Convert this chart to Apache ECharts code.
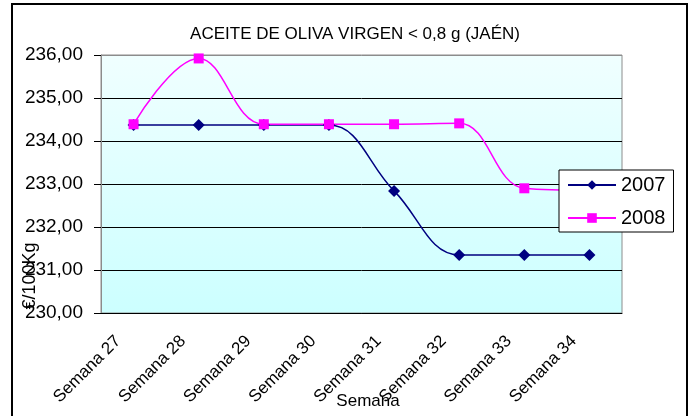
<!DOCTYPE html>
<html lang="es">
<head>
    <meta charset="UTF-8">
    <title>Aceite de oliva virgen - Jaén</title>
    <script src="https://cdn.jsdelivr.net/npm/echarts@6/dist/echarts.min.js"></script>
    <style>
        html, body { margin: 0; padding: 0; background: #fff; }
        #chart { width: 695px; height: 416px; }
    </style>
</head>
<body>
<div id="chart"></div>
<script>
    // datos
    var semanas = ['Semana 27', 'Semana 28', 'Semana 29', 'Semana 30', 'Semana 31', 'Semana 32', 'Semana 33', 'Semana 34'];
    var precios2007 = [234.37, 234.37, 234.37, 234.37, 232.84, 231.35, 231.35, 231.35];
    var precios2008 = [234.39, 235.92, 234.39, 234.39, 234.39, 234.41, 232.90, 232.85];
    var yTicks = [230, 231, 232, 233, 234, 235, 236];

    var font = '"Liberation Sans", Arial, sans-serif';

    var chart = echarts.init(document.getElementById('chart'));

    chart.setOption({
        animation: false,
        textStyle: { fontFamily: font },
        title: {
            text: 'ACEITE DE OLIVA VIRGEN < 0,8 g (JAÉN)',
            left: 350,
            textAlign: 'center',
            top: 21,
            textStyle: { fontSize: 17, fontWeight: 'normal', color: '#000', fontFamily: font }
        },
        graphic: [{
            type: 'rect',
            shape: { x: 12, y: 4, width: 675, height: 440 },
            style: { fill: 'none', stroke: '#000', lineWidth: 2 },
            z: -1
        }, {
            // titulo del eje Y (queda encima de las etiquetas, como en el original)
            type: 'text',
            x: 30,
            y: 276,
            rotation: Math.PI / 2,
            style: {
                text: '€/100Kg',
                fontSize: 18,
                fontFamily: font,
                fill: '#000',
                align: 'center',
                verticalAlign: 'middle'
            },
            z: 10
        }, {
            // titulo del eje X, se monta sobre la etiqueta de la semana 32
            type: 'text',
            x: 368,
            y: 401,
            style: {
                text: 'Semana',
                fontSize: 17,
                fontFamily: font,
                fill: '#000',
                align: 'center',
                verticalAlign: 'middle'
            },
            z: 10
        }],
        legend: {
            orient: 'vertical',
            left: 559,
            top: 170,
            padding: [5, 8, 4, 8],
            itemGap: 13,
            itemWidth: 48,
            itemHeight: 12,
            backgroundColor: '#fff',
            borderColor: '#000',
            borderWidth: 1,
            borderRadius: 0,
            textStyle: { fontSize: 20, color: '#000', fontFamily: font },
            data: ['2007', '2008']
        },
        grid: {
            left: 101, right: 73, top: 55, bottom: 103,
            outerBoundsMode: 'none',
            containLabel: false,
            show: true,
            borderColor: '#8c8c8c',
            borderWidth: 1,
            backgroundColor: new echarts.graphic.LinearGradient(0, 0, 0, 1, [
                { offset: 0, color: '#f0ffff' },
                { offset: 1, color: '#ccffff' }
            ])
        },
        xAxis: {
            type: 'category',
            data: semanas,
            boundaryGap: true,
            axisLine: { lineStyle: { color: '#000' } },
            axisTick: { alignWithLabel: false, length: 6, lineStyle: { color: '#000' } },
            axisLabel: {
                rotate: 45, fontSize: 17, color: '#000', margin: 10, interval: 0,
                padding: [0, 22, 0, 0]
            }
        },
        yAxis: {
            type: 'value',
            min: yTicks[0],
            max: yTicks[yTicks.length - 1],
            interval: 1,
            axisLine: { show: true, lineStyle: { color: '#8c8c8c' } },
            axisTick: { show: true, length: 7, lineStyle: { color: '#000' } },
            axisLabel: {
                fontSize: 19, color: '#000', margin: 18, padding: [3, 0, 0, 0],
                formatter: function (v) { return v.toFixed(2).replace('.', ','); }
            },
            splitLine: { lineStyle: { color: ['#000', '#000', '#000', '#000', '#000', '#000', '#8c8c8c'], width: 1 } }
        },
        series: [
            {
                name: '2007',
                type: 'line',
                data: precios2007,
                smooth: 0.4,
                symbol: 'diamond',
                symbolSize: 12,
                color: '#000080',
                lineStyle: { color: '#000080', width: 1.5 },
                itemStyle: { color: '#000080' }
            },
            {
                name: '2008',
                type: 'line',
                data: precios2008,
                smooth: 0.4,
                symbol: 'rect',
                symbolSize: 10,
                color: '#ff00ff',
                lineStyle: { color: '#ff00ff', width: 1.5 },
                itemStyle: { color: '#ff00ff' }
            }
        ]
    });
</script>
</body>
</html>
